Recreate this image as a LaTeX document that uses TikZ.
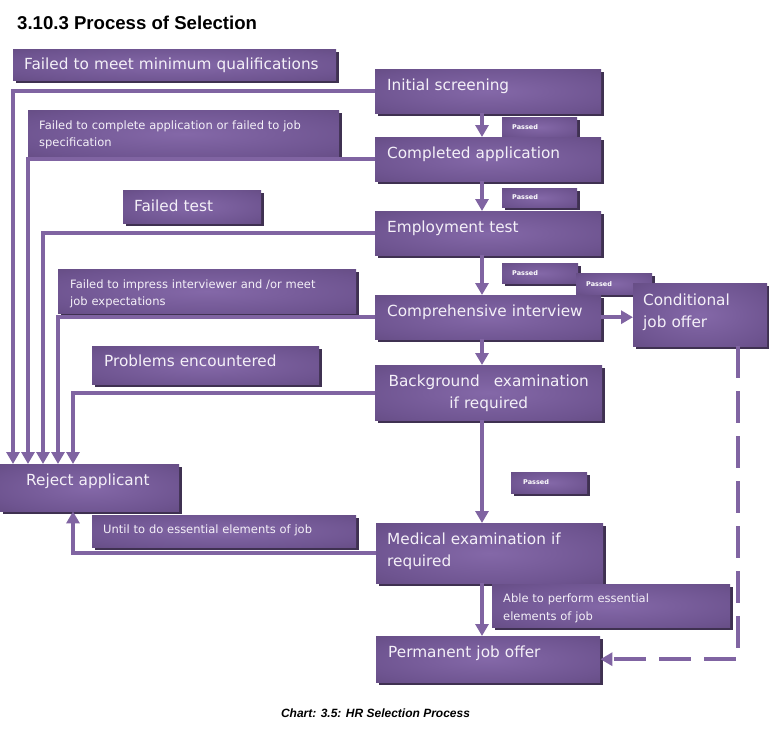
\documentclass[tikz,border=0pt]{standalone}
\usepackage{fontspec}
\setmainfont{DejaVu Sans}
\newfontfamily\arialfont{Liberation Sans}
\usetikzlibrary{arrows.meta,shadows}
\definecolor{boxlight}{HTML}{8468A8}
\definecolor{boxmid}{HTML}{6E5490}
\definecolor{boxdark}{HTML}{5A4374}
\definecolor{boxshadow}{HTML}{3F3151}
\definecolor{linkcol}{HTML}{8064A2}
\definecolor{boxtext}{HTML}{F4F0F8}
\pgfdeclareradialshading{boxshade}{\pgfpoint{0bp}{0bp}}{color(0bp)=(boxlight); color(28bp)=(boxmid); color(50bp)=(boxdark); color(72bp)=(boxdark)}
\tikzset{
  box/.style={shade,shading=boxshade,inner sep=0pt,anchor=north west,
    drop shadow={shadow xshift=3pt,shadow yshift=-3pt,fill=boxshadow,opacity=1}},
  bigtxt/.style={text=boxtext,inner sep=0pt,anchor=base west,text width=330pt,align=left,
    font=\fontsize{15.3}{22}\selectfont},
  smalltxt/.style={bigtxt,font=\fontsize{11.5}{17.5}\selectfont},
  passtxt/.style={bigtxt,text=white,text width=60pt,font=\bfseries\fontsize{6.5}{8}\selectfont},
  link/.style={draw=linkcol,line width=4pt,-{Triangle[length=12pt,width=13pt]}},
}
\begin{document}
\begin{tikzpicture}[x=1pt,y=-1pt]
\useasboundingbox (0,0) rectangle (769,740);
\path (482,0) coordinate (col)
      (738,0) coordinate (dash);
% small "Passed" tags first, the steps lie over them
\foreach \n/\x/\y/\w/\h in {pa/502/117/75/20,pb/502/188/75/19,pc/502/263/76/20,pd/576/273/76/21,pe/511/472/76/21}
  {\node[box,minimum width=\w pt,minimum height=\h pt] (\n) at (\x,\y) {};}
\foreach \n/\x/\y/\w/\h in {fmin/13/49/323/31,fcomp/28/110/311/47,ftest/123/190/138/33,
    fimp/58/269/298/44,prob/92/346/227/38,reject/0/464/179/47,until/92/515/264/32,
    init/375/69/226/44,comp/375/137/226/44,emp/375/211/226/44,inter/375/295/226/44,
    back/375/365/227/55,med/376/523/227/60,able/492/584/238/43,perm/376/636/224/46,
    cond/633/283/134/63}
  {\node[box,minimum width=\w pt,minimum height=\h pt] (\n) at (\x,\y) {};}
% texts
\foreach \n/\x/\y/\t in {fminT/24/69.5/{Failed to meet minimum qualifications},
    ftestT/134/211.5/{Failed test},probT/104/366.5/{Problems encountered},
    rejectT/26/485.5/{Reject applicant},initT/387/90.5/{Initial screening},
    compT/387/158.5/{Completed application},empT/387/232.5/{Employment test},
    interT/387/316.5/{Comprehensive interview},medT/387/544.5/{Medical examination if\\required},
    permT/388/657.5/{Permanent job offer},condT/643/305/{Conditional\\job offer}}
  {\node[bigtxt] (\n) at (\x,\y) {\t};}
\node[bigtxt,anchor=base,text width=240pt,align=center] (backT) at (back.north |- 0,386.5)
  {Background\hspace{14pt}examination\\if required};
\foreach \n/\x/\y/\t in {fcompT/39/129/{Failed to complete application or failed to job\\specification},
    fimpT/70/288/{Failed to impress interviewer and /or meet\\job expectations},
    untilT/103/533.5/{Until to do essential elements of job},
    ableT/503/602.5/{Able to perform essential\\elements of job}}
  {\node[smalltxt] (\n) at (\x,\y) {\t};}
\foreach \n/\x/\y in {paT/512/129.5,pbT/512/199.5,pcT/512/275.5,pdT/586/286,peT/523/484.5}
  {\node[passtxt] (\n) at (\x,\y) {Passed};}
% failures go to the reject box
\draw[link] (init.west) -| ([xshift=13pt]reject.north west);
\draw[link] (comp.west) -| ([xshift=28pt]reject.north west);
\draw[link] (emp.west) -| ([xshift=43pt]reject.north west);
\draw[link] (inter.west) -| ([xshift=58pt]reject.north west);
\draw[link] (back.west) -| ([xshift=73pt]reject.north west);
\draw[link] (med.west) -| ([xshift=73pt]reject.south west);
% passed steps
\draw[link] (init.south -| col) -- (comp.north -| col);
\draw[link] (comp.south -| col) -- (emp.north -| col);
\draw[link] (emp.south -| col) -- (inter.north -| col);
\draw[link] (inter.south -| col) -- (back.north -| col);
\draw[link] (back.south -| col) -- (med.north -| col);
\draw[link] (med.south -| col) -- (perm.north -| col);
\draw[link] (inter.east) -- (inter.east -| cond.west);
\draw[link,dash pattern=on 32pt off 13pt] (cond.south -| dash) |- (perm.east);
\node[anchor=base west,inner sep=0pt,font=\arialfont\bfseries\fontsize{18.6}{20}\selectfont] (title) at (17,29)
  {3.10.3 Process of Selection};
\node[anchor=base,inner sep=0pt,font=\arialfont\bfseries\itshape\fontsize{12}{14}\selectfont] (caption) at (375.5,717)
  {Chart: 3.5: HR Selection Process};
\end{tikzpicture}
\end{document}
